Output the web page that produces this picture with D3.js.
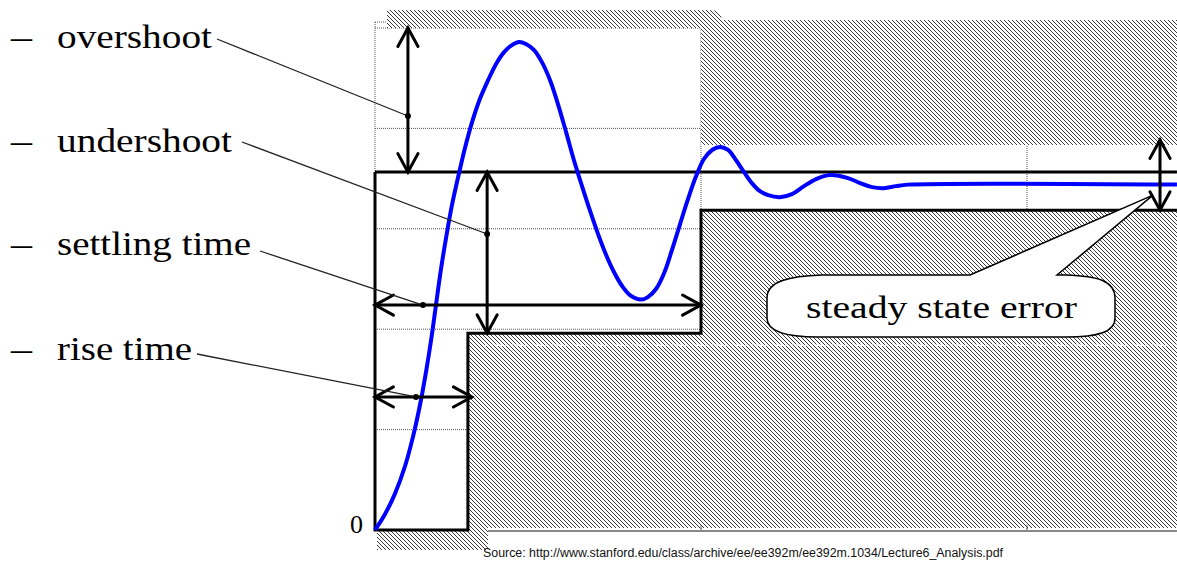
<!DOCTYPE html>
<html>
<head>
<meta charset="utf-8">
<script src="https://cdn.jsdelivr.net/npm/d3@7"></script>
<style>
  body { margin: 0; background: #fff; }
  svg { display: block; }
</style>
</head>
<body>
<svg id="chart" width="1177" height="561"></svg>
<script>
// Step response samples (time in grid units, response as fraction of the top grid line)
const timeValues = [0, 0.031, 0.061, 0.092, 0.117, 0.138, 0.156, 0.172, 0.187, 0.202, 0.218, 0.236,
  0.255, 0.276, 0.298, 0.322, 0.347, 0.371, 0.396, 0.420, 0.442, 0.463, 0.488, 0.512, 0.537, 0.561,
  0.586, 0.610, 0.635, 0.660, 0.684, 0.709, 0.733, 0.758, 0.782, 0.816, 0.837, 0.862, 0.887, 0.911,
  0.936, 0.960, 0.985, 1.009, 1.034, 1.058, 1.083, 1.107, 1.132, 1.156, 1.181, 1.206, 1.242, 1.279,
  1.316, 1.353, 1.396, 1.451, 1.488, 1.525, 1.561, 1.598, 1.635, 2.460];
const responseValues = [0, 0.032, 0.072, 0.127, 0.187, 0.249, 0.313, 0.378, 0.448, 0.518, 0.582, 0.647,
  0.703, 0.761, 0.813, 0.859, 0.896, 0.928, 0.952, 0.966, 0.972, 0.968, 0.956, 0.932, 0.896, 0.849,
  0.793, 0.737, 0.685, 0.635, 0.590, 0.548, 0.514, 0.486, 0.468, 0.459, 0.464, 0.480, 0.512, 0.558,
  0.610, 0.659, 0.705, 0.739, 0.757, 0.763, 0.757, 0.737, 0.713, 0.691, 0.675, 0.667, 0.663, 0.669,
  0.685, 0.699, 0.707, 0.701, 0.691, 0.683, 0.681, 0.685, 0.688, 0.688];

// Grid
const gridTimes = [0, 1, 2];
const gridLevels = [0.2, 0.4, 0.6, 0.8, 1.0];

// Specification bounds
const upperLimit = 0.713;      // overshoot bound
const upperHatchLevel = 0.767; // lower edge of the forbidden region above
const finalLowerLimit = 0.637; // lower bound after settling
const riseLowerLimit = 0.392;  // lower bound after rise time
const riseTime = 0.285;
const settlingTime = 1.0;
const endTime = 2.46;

// Annotation levels / times
const overshootArrowT = 0.101;
const undershootArrowT = 0.344;
const settlingArrowLevel = 0.448;
const riseArrowLevel = 0.265;
const riseArrowEnd = 0.297;
const errorArrowT = 2.408;
const errorArrowTop = 0.777;
const calloutTipLevel = 0.667;

const labels = ["overshoot", "undershoot", "settling time", "rise time"];
const zeroLabel = "0";
const calloutText = "steady state error";
const sourceText = "Source: http://www.stanford.edu/class/archive/ee/ee392m/ee392m.1034/Lecture6_Analysis.pdf";

const svg = d3.select("#chart");
const x = d3.scaleLinear().domain([0, 1]).range([375, 701]);
const y = d3.scaleLinear().domain([0, 1]).range([530, 28]);

const serif = "'Liberation Serif', 'Times New Roman', serif";

// Hatch pattern for forbidden regions
const defs = svg.append("defs");
const pat = defs.append("pattern").attr("id", "hatch")
  .attr("width", 4).attr("height", 4).attr("patternUnits", "userSpaceOnUse");
pat.append("rect").attr("width", 4).attr("height", 4).attr("fill", "#fff");
pat.append("path").attr("d", "M-1,-1 L5,5 M-1,3 L1,5 M3,-1 L5,1")
  .attr("stroke", "#3a3a3a").attr("stroke-width", 1);

// Dotted grid
const grid = svg.append("g").attr("stroke", "#555").attr("stroke-width", 1).attr("stroke-dasharray", "1,1");
grid.selectAll("line.h").data(gridLevels).join("line")
  .attr("x1", x(0)).attr("x2", x(endTime)).attr("y1", d => y(d)).attr("y2", d => y(d));
grid.selectAll("line.v").data(gridTimes).join("line")
  .attr("x1", d => x(d)).attr("x2", d => x(d)).attr("y1", y(1) - 6).attr("y2", y(0));
grid.append("line").attr("x1", x(0)).attr("x2", x(0) + 12).attr("y1", y(1) - 6).attr("y2", y(1) - 6);

// Upper forbidden region
const topBand = y(1) - 18;
const topBandRight = y(1) - 8;
svg.append("path").attr("fill", "url(#hatch)")
  .attr("d", `M${x(0) + 12},${topBand} L${x(settlingTime) + 12},${topBand}
    Q${x(settlingTime) + 20},${topBand} ${x(settlingTime) + 21},${topBandRight}
    L${x(endTime)},${topBandRight} L${x(endTime)},${y(upperHatchLevel)}
    L${x(settlingTime)},${y(upperHatchLevel)} L${x(settlingTime)},${y(1)}
    L${x(0) + 12},${y(1)} Z`);

// Lower forbidden region
svg.append("path").attr("fill", "url(#hatch)")
  .attr("d", `M${x(riseTime)},${y(riseLowerLimit)} L${x(settlingTime)},${y(riseLowerLimit)}
    L${x(settlingTime)},${y(finalLowerLimit)} L${x(endTime)},${y(finalLowerLimit)}
    L${x(endTime)},${y(0) - 2} L${x(riseTime) + 20},${y(0) - 2} L${x(riseTime) + 20},${y(0) + 20}
    L${x(0) + 2},${y(0) + 20} L${x(0) + 2},${y(0)} L${x(riseTime)},${y(0)} Z`);

// Faint gridline showing through the hatch
svg.append("line").attr("x1", x(riseTime) + 17).attr("x2", x(endTime))
  .attr("y1", y(riseLowerLimit) + 12).attr("y2", y(riseLowerLimit) + 12)
  .attr("stroke", "#fff").attr("stroke-width", 1.5).attr("stroke-dasharray", "3,2");

// Bottom axis line with ticks
svg.append("line").attr("x1", x(riseTime) + 20).attr("x2", x(endTime))
  .attr("y1", y(0) + 1).attr("y2", y(0) + 1).attr("stroke", "#888").attr("stroke-width", 2);
svg.selectAll("line.tick").data(gridTimes.slice(1)).join("line")
  .attr("x1", d => x(d)).attr("x2", d => x(d)).attr("y1", y(0)).attr("y2", y(0) - 5)
  .attr("stroke", "#666").attr("stroke-width", 1);

// Specification envelope outline
const bound = svg.append("g").attr("fill", "none").attr("stroke", "#000").attr("stroke-width", 3);
bound.append("line").attr("x1", x(0)).attr("x2", x(endTime)).attr("y1", y(upperLimit)).attr("y2", y(upperLimit));
bound.append("path").attr("d",
  `M${x(0)},${y(upperLimit)} L${x(0)},${y(0)} L${x(riseTime)},${y(0)} L${x(riseTime)},${y(riseLowerLimit)}
   L${x(settlingTime)},${y(riseLowerLimit)} L${x(settlingTime)},${y(finalLowerLimit)} L${x(endTime)},${y(finalLowerLimit)}`);

// Step response curve
const pts = timeValues.map((t, i) => [t, responseValues[i]]);
svg.append("path").datum(pts)
  .attr("fill", "none").attr("stroke", "#0000ff").attr("stroke-width", 4).attr("stroke-linejoin", "round")
  .attr("d", d3.line().x(d => x(d[0])).y(d => y(d[1])).curve(d3.curveCatmullRom.alpha(0.5)));

// Double-headed arrows
function arrow(x1, y1, x2, y2) {
  const g = svg.append("g").attr("stroke", "#000").attr("stroke-width", 3).attr("fill", "none")
    .attr("stroke-linecap", "round");
  g.append("line").attr("x1", x1).attr("y1", y1).attr("x2", x2).attr("y2", y2);
  const ang = Math.atan2(y2 - y1, x2 - x1);
  const len = 21, spread = 0.5;
  [[x1, y1, ang], [x2, y2, ang + Math.PI]].forEach(([px, py, a]) => {
    const w1 = [px + len * Math.cos(a + spread), py + len * Math.sin(a + spread)];
    const w2 = [px + len * Math.cos(a - spread), py + len * Math.sin(a - spread)];
    g.append("path").attr("d", `M${w1[0]},${w1[1]} L${px},${py} L${w2[0]},${w2[1]}`);
  });
}
arrow(x(overshootArrowT), y(1), x(overshootArrowT), y(upperLimit));
arrow(x(undershootArrowT), y(upperLimit), x(undershootArrowT), y(riseLowerLimit));
arrow(x(0), y(settlingArrowLevel), x(settlingTime), y(settlingArrowLevel));
arrow(x(0), y(riseArrowLevel), x(riseArrowEnd), y(riseArrowLevel));
arrow(x(errorArrowT), y(errorArrowTop), x(errorArrowT), y(finalLowerLimit));

// Labels with leader lines
const labelRows = [
  { text: labels[0], base: 48, width: 155, from: [217, 39], to: [x(overshootArrowT), 116] },
  { text: labels[1], base: 152, width: 175, from: [242, 142], to: [x(undershootArrowT), 234] },
  { text: labels[2], base: 255, width: 194, from: [260, 251], to: [423, y(settlingArrowLevel)] },
  { text: labels[3], base: 360, width: 135, from: [197, 354], to: [416, y(riseArrowLevel)] }
];
const lab = svg.append("g");
labelRows.forEach(r => {
  lab.append("text").attr("x", 11).attr("y", r.base).attr("font-family", serif).attr("font-size", 33)
    .attr("textLength", 21).attr("lengthAdjust", "spacingAndGlyphs").text("–");
  lab.append("text").attr("x", 57).attr("y", r.base).attr("font-family", serif).attr("font-size", 33)
    .attr("textLength", r.width).attr("lengthAdjust", "spacingAndGlyphs").text(r.text);
  lab.append("line").attr("x1", r.from[0]).attr("y1", r.from[1]).attr("x2", r.to[0]).attr("y2", r.to[1])
    .attr("stroke", "#222").attr("stroke-width", 1.3);
  lab.append("circle").attr("cx", r.to[0]).attr("cy", r.to[1]).attr("r", 3).attr("fill", "#000");
});

// Zero label on the vertical axis
svg.append("text").attr("x", 363).attr("y", 533).attr("text-anchor", "end")
  .attr("font-family", serif).attr("font-size", 26).text(zeroLabel);

// Callout for steady state error
const tip = [x(errorArrowT) - 7, y(calloutTipLevel)];
svg.append("path").attr("fill", "#fff").attr("stroke", "#000").attr("stroke-width", 1.5)
  .attr("stroke-linejoin", "miter")
  .attr("d", `M767,298 C767,281 790,276 822,275 L970,275 L${tip[0]},${tip[1]} L1057,275 L1066,275
    C1098,276 1115,281 1115,298 L1115,318 C1115,332 1098,337 1066,337 L818,337
    C788,337 767,332 767,318 Z`);
svg.append("text").attr("x", 806).attr("y", 318).attr("font-family", serif).attr("font-size", 31)
  .attr("textLength", 271).attr("lengthAdjust", "spacingAndGlyphs").text(calloutText);

// Source line
svg.append("text").attr("x", 483).attr("y", 557)
  .attr("font-family", "'Liberation Sans', Arial, sans-serif").attr("font-size", 12)
  .attr("textLength", 520).attr("lengthAdjust", "spacingAndGlyphs").attr("fill", "#111").text(sourceText);
</script>
</body>
</html>
